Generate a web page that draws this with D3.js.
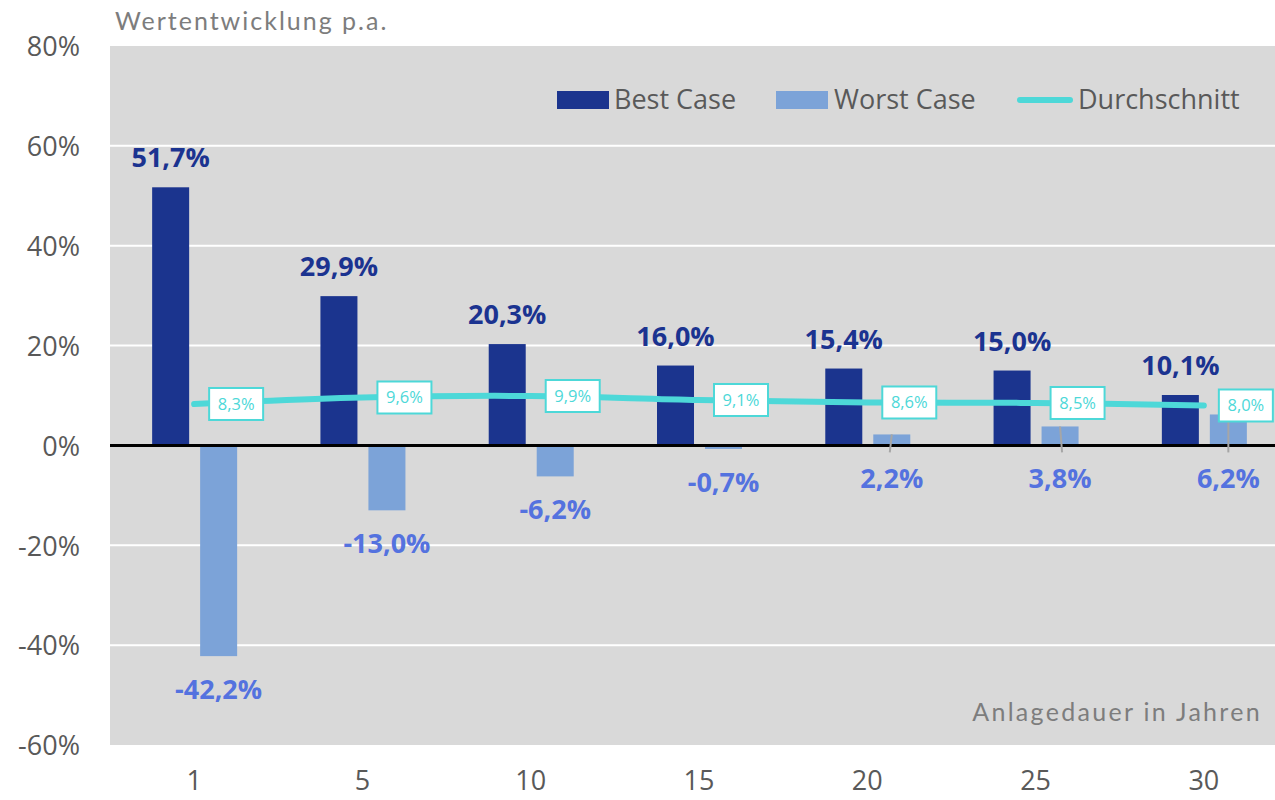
<!DOCTYPE html>
<html>
<head>
<meta charset="utf-8">
<script src="https://cdn.jsdelivr.net/npm/d3@7"></script>
<style>
  html, body { margin: 0; padding: 0; background: #ffffff; overflow: hidden; }
  svg { display: block; }
</style>
</head>
<body>
<svg id="chart" width="1275" height="800"></svg>
<script>
// ---- data ----
const categories = ["1", "5", "10", "15", "20", "25", "30"];
const bestCase   = [51.7, 29.9, 20.3, 16.0, 15.4, 15.0, 10.1];
const worstCase  = [-42.2, -13.0, -6.2, -0.7, 2.2, 3.8, 6.2];
const average    = [8.3, 9.6, 9.9, 9.1, 8.6, 8.5, 8.0];
const yTicks     = [-60, -40, -20, 0, 20, 40, 60, 80];
const seriesNames = ["Best Case", "Worst Case", "Durchschnitt"];
const yTitle = "Wertentwicklung p.a.";
const xTitle = "Anlagedauer in Jahren";

// ---- styling ----
const C = {
  best: "#1B348E", worst: "#7CA3D8", avg: "#4DD8D8",
  bestLabel: "#1B3390", worstLabel: "#5472DF",
  plotBg: "#D9D9D9", grid: "#FFFFFF", tick: "#595959", title: "#7D7D7D"
};
const FONT = "'Open Sans', 'Noto Sans', sans-serif";
const TFONT = "Lato, 'Noto Sans', sans-serif";

const svg = d3.select("#chart");
const pLeft = 110, pRight = 1288, pTop = 46, pBottom = 745;

const x = d3.scaleBand().domain(categories).range([pLeft, pRight]).padding(0);
const bw = x.bandwidth();
const sub = d3.scaleBand().domain(["best", "worst"])
  .range([bw / 2 - 42, bw / 2 + 43]).paddingInner(0.229).paddingOuter(0);
const y = d3.scaleLinear().domain([-60, 80]).range([pBottom, pTop]);

const loc = d3.formatLocale({ decimal: ",", thousands: ".", grouping: [3], currency: ["", "€"], minus: "-" });
const fmt = v => loc.format(".1f")(v) + "%";
const fmtTick = v => loc.format("d")(v) + "%";

// plot background
svg.append("rect").attr("x", pLeft).attr("y", pTop)
  .attr("width", pRight - pLeft).attr("height", pBottom - pTop).attr("fill", C.plotBg);

// gridlines
svg.append("g").selectAll("line")
  .data(yTicks.filter(t => t !== 0 && t !== 80 && t !== -60))
  .join("line")
  .attr("x1", pLeft).attr("x2", pRight)
  .attr("y1", d => y(d)).attr("y2", d => y(d))
  .attr("stroke", C.grid).attr("stroke-width", 2);

// y axis
const yAxis = svg.append("g").attr("transform", `translate(${pLeft},0)`)
  .call(d3.axisLeft(y).tickValues(yTicks).tickFormat(fmtTick).tickSize(0).tickPadding(30));
yAxis.select(".domain").remove();
yAxis.selectAll("text").attr("font-family", FONT).attr("font-size", 27)
  .attr("fill", C.tick).attr("dy", "0.36em");

// x axis
const xAxis = svg.append("g").attr("transform", `translate(0,${pBottom})`)
  .call(d3.axisBottom(x).tickSize(0).tickPadding(26));
xAxis.select(".domain").remove();
xAxis.selectAll("text").attr("font-family", FONT).attr("font-size", 27)
  .attr("fill", C.tick).attr("dy", "0.71em");

// bars
const g = svg.append("g");
g.selectAll("rect.best").data(bestCase).join("rect").attr("class", "best")
  .attr("x", (d, i) => x(categories[i]) + sub("best"))
  .attr("width", sub.bandwidth())
  .attr("y", d => y(Math.max(d, 0)))
  .attr("height", d => Math.abs(y(d) - y(0)))
  .attr("fill", C.best);
g.selectAll("rect.worst").data(worstCase).join("rect").attr("class", "worst")
  .attr("x", (d, i) => x(categories[i]) + sub("worst"))
  .attr("width", sub.bandwidth())
  .attr("y", d => y(Math.max(d, 0)))
  .attr("height", d => Math.abs(y(d) - y(0)))
  .attr("fill", C.worst);

// zero line
svg.append("line").attr("x1", pLeft).attr("x2", pRight)
  .attr("y1", y(0)).attr("y2", y(0)).attr("stroke", "#000").attr("stroke-width", 3);

// leader lines for positive worst-case labels
const wcx = i => x(categories[i]) + sub("worst") + sub.bandwidth() / 2;
svg.append("g").selectAll("line")
  .data(worstCase.map((d, i) => ({ d, i })).filter(o => o.d > 0))
  .join("line")
  .attr("x1", o => wcx(o.i)).attr("y1", o => y(o.d))
  .attr("x2", o => wcx(o.i) + (o.i === 4 ? -2 : o.i === 5 ? 2 : 0)).attr("y2", y(0) + 7)
  .attr("stroke", "#A6A6A6").attr("stroke-width", 2);

// best labels
svg.append("g").selectAll("text").data(bestCase).join("text")
  .attr("x", (d, i) => x(categories[i]) + sub("best") + sub.bandwidth() / 2)
  .attr("y", d => y(d) - 20)
  .attr("text-anchor", "middle")
  .attr("font-family", FONT).attr("font-weight", 700).attr("font-size", 27)
  .attr("fill", C.bestLabel).text(d => fmt(d));

// worst labels
svg.append("g").selectAll("text").data(worstCase).join("text")
  .attr("x", (d, i) => wcx(i))
  .attr("y", d => Math.max(y(d), y(0)) + 43)
  .attr("text-anchor", "middle")
  .attr("font-family", FONT).attr("font-weight", 700).attr("font-size", 27)
  .attr("fill", C.worstLabel).text(d => fmt(d));

// average line
const cx = i => x(categories[i]) + bw / 2;
const line = d3.line().x((d, i) => cx(i)).y(d => y(d)).curve(d3.curveCatmullRom.alpha(0.5));
svg.append("path").datum(average).attr("d", line)
  .attr("fill", "none").attr("stroke", C.avg).attr("stroke-width", 6)
  .attr("stroke-linecap", "round");

// average labels
const lab = svg.append("g").selectAll("g").data(average).join("g")
  .attr("transform", (d, i) => `translate(${cx(i) + 15},${y(d)})`);
lab.append("rect").attr("x", 0).attr("y", -16).attr("width", 54).attr("height", 32)
  .attr("fill", "#fff").attr("stroke", C.avg).attr("stroke-width", 2);
lab.append("text").attr("x", 27).attr("y", 0).attr("dy", "0.36em")
  .attr("text-anchor", "middle").attr("font-family", FONT).attr("font-size", 16.5)
  .attr("fill", C.avg).text(d => fmt(d));

// legend
const leg = svg.append("g");
leg.append("rect").attr("x", 557).attr("y", 91).attr("width", 52).attr("height", 18).attr("fill", C.best);
leg.append("text").attr("x", 614).attr("y", 109).text(seriesNames[0]);
leg.append("rect").attr("x", 776).attr("y", 91).attr("width", 52).attr("height", 18).attr("fill", C.worst);
leg.append("text").attr("x", 834).attr("y", 109).text(seriesNames[1]);
leg.append("line").attr("x1", 1020).attr("x2", 1070).attr("y1", 100).attr("y2", 100)
  .attr("stroke", C.avg).attr("stroke-width", 6).attr("stroke-linecap", "round");
leg.append("text").attr("x", 1078).attr("y", 109).text(seriesNames[2]);
leg.selectAll("text").attr("font-family", FONT).attr("font-size", 27).attr("fill", C.tick);

// titles
svg.append("text").attr("x", 115).attr("y", 30).text(yTitle)
  .attr("font-family", TFONT).attr("font-size", 25).attr("letter-spacing", 2)
  .attr("fill", C.title);
svg.append("text").attr("x", 1262).attr("y", 721).attr("text-anchor", "end").text(xTitle)
  .attr("font-family", TFONT).attr("font-size", 25).attr("letter-spacing", 2.3)
  .attr("fill", C.title);
</script>
</body>
</html>
